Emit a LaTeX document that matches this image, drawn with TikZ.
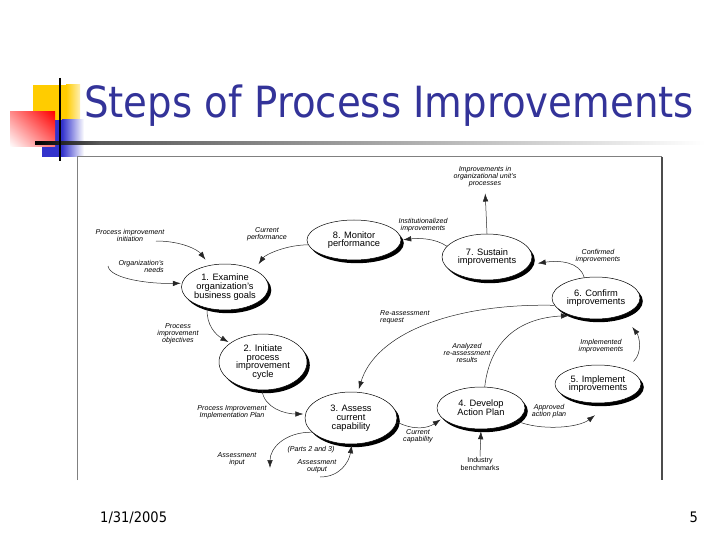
\documentclass[tikz,border=0pt]{standalone}
\usepackage{fontspec}
\setmainfont{Liberation Sans}
\newfontfamily\titlefont[FakeStretch=0.9]{DejaVu Sans}
\usetikzlibrary{shapes.geometric,arrows.meta,shadows,shadings}
\definecolor{titleblue}{RGB}{51,51,153}
\definecolor{yel}{RGB}{255,204,0}
\definecolor{blu}{RGB}{51,51,204}
\definecolor{frame}{RGB}{128,128,128}
\tikzset{
  stepnode/.style={ellipse, draw=black, line width=0.5pt, fill=white, inner sep=0pt,
    align=center, font=\fontsize{9.3}{8.8}\selectfont,
    general shadow={fill=black, shadow xshift=2.8pt, shadow yshift=-3.2pt}},
  lbl/.style={font=\itshape\fontsize{7.1}{7}\selectfont, align=center, inner sep=1pt},
  lblup/.style={font=\fontsize{7.1}{7.4}\selectfont, align=center, inner sep=1pt},
  flow/.style={draw=black!85, line width=0.5pt, -{Latex[length=8pt,width=5.5pt]}},
}
\begin{document}
\begin{tikzpicture}[x=1pt,y=-1pt]
\useasboundingbox (0,0) rectangle (720,540);
% decoration
\fill[yel] (33,85) rectangle (66,128);
\shade[left color=yel, right color=yel!30!white] (66,85) rectangle (80,128);
\fill[blu] (42,120) rectangle (62,157);
\shade[left color=blu, right color=white] (62,120) rectangle (84,157);
\shade[upper left=red!45!white, upper right=red, lower left=white, lower right=red!55!white] (10,112) rectangle (55,147);
\shade[left color=black, right color=black!65] (35,141.5) rectangle (100,144.5);
\shade[left color=black!65, right color=white] (100,141.5) rectangle (705,144.5);
\draw[line width=2pt] (60,78) -- (60,161);
% title
\node[anchor=base west, inner sep=0pt, text=titleblue, font=\titlefont\fontsize{43}{48}\selectfont] (title) at (84,118) {Steps of Process Improvements};
% footer
\node[anchor=base west, inner sep=0pt, font=\titlefont\fontsize{14.5}{16}\selectfont] (date) at (100,522) {1/31/2005};
\node[anchor=base east, inner sep=0pt, font=\titlefont\fontsize{14.5}{16}\selectfont] (page) at (698,522) {5};
% frame
\draw[frame, line width=1pt] (77,480) -- (77,157) -- (662,157);
\draw[black!70, line width=1.5pt] (662,157) -- (662,480);

% steps
\node[stepnode, minimum width=86pt, minimum height=46pt] (e1) at (225,287) {1. Examine\\organization's\\business goals};
\node[stepnode, minimum width=94pt, minimum height=40pt] (e8) at (354,240) {8. Monitor\\performance};
\node[stepnode, minimum width=90pt, minimum height=46pt] (e7) at (487,257) {7. Sustain\\improvements};
\node[stepnode, minimum width=88pt, minimum height=42pt] (e6) at (596,298) {6. Confirm\\improvements};
\node[stepnode, minimum width=88pt, minimum height=56pt] (e2) at (263,362) {2. Initiate\\process\\improvement\\cycle};
\node[stepnode, minimum width=86pt, minimum height=38pt] (e5) at (598,384) {5. Implement\\improvements};
\node[stepnode, minimum width=88pt, minimum height=42pt] (e4) at (481,408) {4. Develop\\Action Plan};
\node[stepnode, minimum width=92pt, minimum height=52pt] (e3) at (351,418) {3. Assess\\current\\capability};

% labels
\node[lbl] (pii) at (130,235.5) {Process improvement\\initiation};
\node[lbl] (cp) at (267,234) {Current\\performance};
\node[lbl, align=right, anchor=east] (on) at (165,266.5) {Organization's\\needs};
\node[lbl] (pio) at (178,334) {Process\\improvement\\objectives};
\node[lbl] (ins) at (423,225) {Institutionalized\\improvements};
\node[lbl] (imp) at (485,177) {Improvements in\\organizational unit's\\processes};
\node[lbl] (conf) at (598,256.5) {Confirmed\\improvements};
\node[lbl, align=left, anchor=west] (rar) at (379,317) {Re-assessment\\request};
\node[lbl] (arr) at (467,353) {Analyzed\\re-assessment\\results};
\node[lbl] (impl) at (601,346) {Implemented\\improvements};
\node[lbl] (app) at (549,411.5) {Approved\\action plan};
\node[lblup] (ib) at (480,464) {Industry\\benchmarks};
\node[lbl] (cc) at (418,436.5) {Current\\capability};
\node[lbl] (pip) at (232,412.5) {Process Improvement\\Implementation Plan};
\node[lbl] (ai) at (237,459.5) {Assessment\\input};
\node[lbl] (p23) at (311,450) {(Parts 2 and 3)};
\node[lbl] (ao) at (317,466) {Assessment\\output};

% free ends
\coordinate (c1) at (156,241);
\coordinate (c3) at (108,266);
\coordinate (c6) at (270,468);
\coordinate (c7) at (320,477);

% connectors
\draw[flow, shorten >=7pt] (c1) .. controls (182,241) and (198,250) .. (e1.125);
\draw[flow, shorten >=7pt] (e8.186) .. controls (285,245) and (265,255) .. (e1.30);
\draw[flow, shorten >=1pt] (c3) .. controls (110,279) and (150,284) .. (e1.175);
\draw[flow, shorten >=2pt] (e1.230) .. controls (206,325) and (216,335) .. (e2.150);
\draw[flow, shorten >=2pt] (e2.268) .. controls (264,408) and (285,414) .. (e3.175);
\draw[flow] (e3.200) .. controls (285,432) and (270,448) .. (c6);
\draw[flow, shorten >=1pt] (c7) .. controls (340,477) and (349,462) .. (e3.272);
\draw[flow, shorten >=2pt] (e3.355) .. controls (415,431) and (428,428) .. (e4.195);
\draw[flow] (e4.340) .. controls (540,431) and (578,428) .. ([shift={(-3pt,-12pt)}]e5.south);
\draw[flow, shorten >=2pt] (ib.north) -- (e4.south);
\draw[flow] ([shift={(5pt,9pt)}]e5.north east) .. controls (643,352) and (639,336) .. ([shift={(5pt,-14pt)}]e6.south east);
\draw[flow, shorten >=2pt] (e4.80) .. controls (490,340) and (520,318) .. (e6.215);
\draw[flow, shorten >=3pt] (e6.190) .. controls (450,303) and (375,335) .. (e3.75);
\draw[flow, shorten >=8pt] (e6.120) .. controls (580,262) and (560,260) .. (e7.350);
\draw[flow, shorten >=2pt] (e7.165) .. controls (435,238) and (418,238) .. (e8.east);
\draw[flow, shorten >=5pt] (e7.north) -- (imp.south);
\end{tikzpicture}
\end{document}
